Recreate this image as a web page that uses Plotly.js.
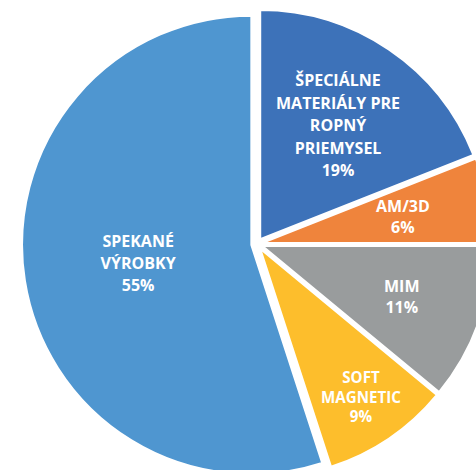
<!DOCTYPE html>
<html>
<head>
<meta charset="utf-8">
<script src="https://cdn.plot.ly/plotly-3.0.1.min.js"></script>
<style>
  html, body { margin: 0; padding: 0; width: 476px; height: 470px; overflow: hidden; background: #ffffff; }
  #chart { position: absolute; left: 22px; top: 9px; width: 470px; height: 470px; }
</style>
</head>
<body>
<div id="chart"></div>
<script>
// Data
var categories = [
  "ŠPECIÁLNE\nMATERIÁLY PRE\nROPNÝ\nPRIEMYSEL",
  "AM/3D",
  "MIM",
  "SOFT\nMAGNETIC",
  "SPEKANÉ\nVÝROBKY"
];
var shares = [19, 6, 11, 9, 55];
var sliceColors = ["#3D72B9", "#EF843C", "#999C9D", "#FDBE2C", "#4F96D0"];

// Style constants
var PULL = 0.025;
var GLYPH_SIZE = 16;
var FONT = "Open Sans";
var LINE_SIZES = [17.4, 16.5, 16.5, 16, 17];     // controls line spacing of the labels
var ANNOTATED = [true, true, true, false, false]; // labels placed along the bisector
var LABEL_R = [0.6, 0.625, 0.645, 0, 0];         // fraction of radius for those labels

var total = shares.reduce(function (a, b) { return a + b; }, 0);
function wrapLines(lines) {
  return lines.map(function (l) {
    return '<span style="font-size:' + GLYPH_SIZE + 'px">' + l + '</span>';
  }).join("<br>");
}

var templates = categories.map(function (c, i) {
  if (ANNOTATED[i]) return "";
  return wrapLines(c.split("\n").concat(["%{percent}"]));
});

var trace = {
  type: "pie",
  labels: categories.map(function (c) { return c.replace(/\n/g, " "); }),
  values: shares,
  sort: false,
  direction: "clockwise",
  rotation: 0,
  pull: shares.map(function () { return PULL; }),
  marker: { colors: sliceColors, line: { color: "#ffffff", width: 2 } },
  textinfo: "none",
  texttemplate: templates,
  textposition: "inside",
  insidetextorientation: "horizontal",
  textfont: { family: FONT, size: LINE_SIZES, color: "#ffffff", weight: "bold" },
  hoverinfo: "none"
};

// Labels placed along each slice's bisector
var annotations = [];
var rPaper = 0.5 / (1 + PULL);
var cum = 0;
shares.forEach(function (v, i) {
  var mid = (cum + v / 2) / total * 2 * Math.PI;
  cum += v;
  if (!ANNOTATED[i]) return;
  var d = (LABEL_R[i] + PULL) * rPaper;
  var lines = categories[i].split("\n").concat([Math.round(v / total * 100) + "%"]);
  annotations.push({
    xref: "paper", yref: "paper",
    x: 0.5 + d * Math.sin(mid),
    y: 0.5 + d * Math.cos(mid),
    xanchor: "center", yanchor: "middle",
    showarrow: false,
    text: wrapLines(lines),
    font: { family: FONT, size: LINE_SIZES[i], color: "#ffffff", weight: "bold" }
  });
});

var layout = {
  width: 470,
  height: 470,
  margin: { l: 0, r: 0, t: 0, b: 0 },
  showlegend: false,
  paper_bgcolor: "rgba(0,0,0,0)",
  plot_bgcolor: "rgba(0,0,0,0)",
  annotations: annotations
};

Plotly.newPlot("chart", [trace], layout, { displayModeBar: false, staticPlot: true });
</script>
</body>
</html>
